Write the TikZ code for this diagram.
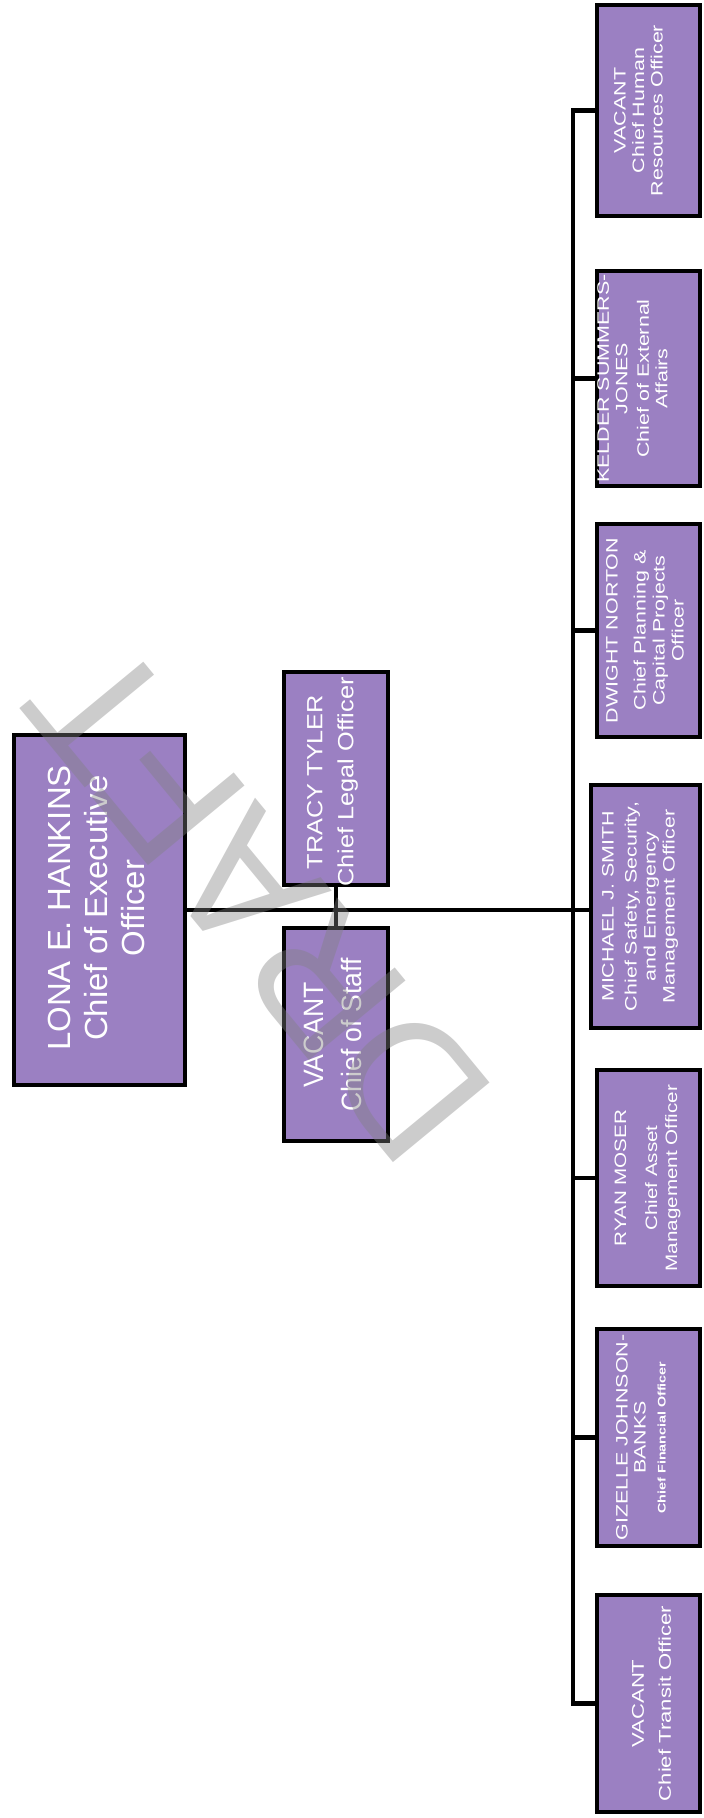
\documentclass[tikz,border=0pt]{standalone}
\usepackage{fontspec}
\setmainfont{Liberation Sans}
\definecolor{boxfill}{RGB}{155,128,194}
\begin{document}
\begin{tikzpicture}[x=1pt,y=-1pt,
  orgbox/.style={draw=black, line width=3.8pt, fill=boxfill, inner sep=0pt},
  txt/.style={text=white, align=center, rotate=90, inner sep=0pt},
  link/.style={draw=black, line width=4.4pt},
  mainline/.style={draw=black, line width=3.6pt},
  wm/.style={rotate=129.5, inner sep=0pt, text=black!50, text opacity=0.4,
             font=\fontsize{182}{182}\selectfont}]
\useasboundingbox (0,0) rectangle (704,1818);

% boxes
\node[orgbox, minimum width=171pt, minimum height=350pt] (ceo) at (99.5,910) {};
\node[orgbox, minimum width=104pt, minimum height=213pt] (tracy) at (336,778.5) {};
\node[orgbox, minimum width=104pt, minimum height=213pt] (staff) at (336,1034.5) {};
\node[orgbox, minimum width=103pt, minimum height=211pt] (hr) at (648.5,110.5) {};
\node[orgbox, minimum width=103pt, minimum height=215pt] (kelder) at (648.5,378.5) {};
\node[orgbox, minimum width=103pt, minimum height=213pt] (dwight) at (648.5,630.5) {};
\node[orgbox, minimum width=109pt, minimum height=243pt] (michael) at (645.5,906.5) {};
\node[orgbox, minimum width=103pt, minimum height=216pt] (ryan) at (648.5,1178) {};
\node[orgbox, minimum width=103pt, minimum height=217pt] (gizelle) at (648.5,1437.5) {};
\node[orgbox, minimum width=103pt, minimum height=217pt] (transit) at (648.5,1703.5) {};

% texts
\node[txt, xscale=1.03, font=\fontsize{32}{37}\selectfont] (ceoT) at (96.5,908)
  {LONA E. HANKINS\\Chief of Executive\\Officer};
\node[txt, xscale=1.15, font=\fontsize{22}{31}\selectfont] (tracyT) at (332.5,782)
  {TRACY TYLER\\Chief Legal Officer};
\node[txt, xscale=0.95, font=\fontsize{28}{38}\selectfont] (staffT) at (332.5,1035)
  {VACANT\\Chief of Staff};
\node[txt, xscale=1.3, font=\fontsize{16.5}{18.5}\selectfont] (hrT) at (638.5,110.5)
  {VACANT\\Chief Human\\Resources Officer};
\node[txt, xscale=1.3, font=\fontsize{16.5}{18.5}\selectfont] (kelderT) at (632.5,378.5)
  {KELDER SUMMERS-\\JONES\\[3pt]Chief of External\\Affairs};
\node[txt, xscale=1.3, font=\fontsize{16.5}{19}\selectfont] (dwightT) at (645,630.5)
  {DWIGHT NORTON\\[9pt]Chief Planning \&\\Capital Projects\\Officer};
\node[txt, xscale=1.3, font=\fontsize{16.5}{19}\selectfont] (michaelT) at (640,906.5)
  {MICHAEL J. SMITH\\[4pt]Chief Safety, Security,\\and Emergency\\Management Officer};
\node[txt, xscale=1.25, font=\fontsize{16.5}{20}\selectfont] (ryanT) at (647.5,1178)
  {RYAN MOSER\\[11pt]Chief Asset\\Management Officer};
\node[txt, xscale=1.3, font=\fontsize{16.5}{18}\selectfont] (gizelleT) at (641,1437.5)
  {GIZELLE JOHNSON-\\BANKS\\[2pt]{\bfseries\fontsize{11}{13}\selectfont Chief Financial Officer}};
\node[txt, xscale=1.3, font=\fontsize{17}{27}\selectfont] (transitT) at (651.5,1703.5)
  {VACANT\\Chief Transit Officer};

% connectors
\coordinate (bus) at (573,0);
\draw[link] (hr.west) -- (hr.west -| bus) -- (transit.west -| bus) -- (transit.west);
\foreach \n in {kelder,dwight,ryan,gizelle}
  \draw[link] (\n.west) -- (\n.west -| bus);
\draw[mainline] (ceo.east) -- (ceo.east -| michael.west);
\draw[mainline] (tracy.south) -- (staff.north);

% watermark
\node[wm] (draft) at (258,900) {DRAFT};
\end{tikzpicture}
\end{document}
